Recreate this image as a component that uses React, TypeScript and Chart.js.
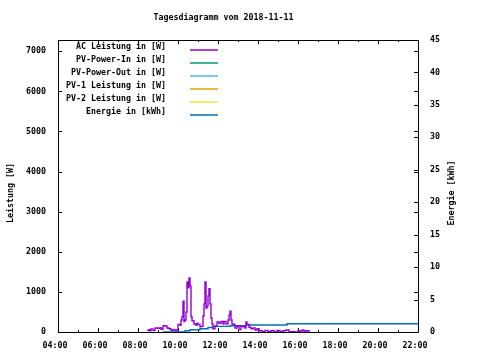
import React, { useEffect, useRef } from "react";
import { Chart, registerables } from "chart.js";

Chart.register(...registerables);

const chartTitle = "Tagesdiagramm vom 2018-11-11";
const leftAxisTitle = "Leistung [W]";
const rightAxisTitle = "Energie [kWh]";

const seriesLabels = [
  "AC Leistung in [W]",
  "PV-Power-In in [W]",
  "PV-Power-Out in [W]",
  "PV-1 Leistung in [W]",
  "PV-2 Leistung in [W]",
  "Energie in [kWh]",
];
const seriesColors = ["#9400d3", "#009e73", "#56b4e9", "#e69f00", "#f0e442", "#0072b2"];

const xTickLabels = ["04:00", "06:00", "08:00", "10:00", "12:00", "14:00", "16:00", "18:00", "20:00", "22:00"];
const leftTickValues = [0, 1000, 2000, 3000, 4000, 5000, 6000, 7000];
const rightTickValues = [0, 5, 10, 15, 20, 25, 30, 35, 40, 45];

const acTimes = [
  "08:27", "08:33", "08:36", "08:39", "08:45", "08:51", "09:00", "09:06", "09:09", "09:15",
  "09:21", "09:27", "09:33", "09:39", "09:45", "09:51", "09:57", "10:00", "10:06", "10:09",
  "10:12", "10:15", "10:18", "10:21", "10:24", "10:27", "10:30", "10:33", "10:36", "10:39",
  "10:42", "10:48", "10:54", "10:57", "11:00", "11:06", "11:09", "11:15", "11:18", "11:21",
  "11:24", "11:27", "11:30", "11:33", "11:36", "11:39", "11:42", "11:45", "11:51", "11:57",
  "12:03", "12:09", "12:15", "12:18", "12:24", "12:30", "12:33", "12:36", "12:39", "12:42",
  "12:48", "12:51", "12:57", "13:03", "13:09", "13:15", "13:21", "13:24", "13:27", "13:33",
  "13:39", "13:45", "13:51", "13:57", "14:03", "14:12", "14:21", "14:30", "14:39", "14:48",
  "14:57", "15:06", "15:15", "15:24", "15:33", "15:42", "15:51", "16:00", "16:06", "16:12",
  "16:18", "16:24", "16:33",
];
const acValues = [
  40, 60, 30, 75, 40, 100, 90, 110, 70, 160,
  150, 100, 80, 40, 60, 30, 60, 190, 170, 300,
  380, 770, 260, 300, 500, 1250, 1100, 1350, 1150, 380,
  280, 200, 170, 220, 190, 130, 140, 400, 700, 1250,
  600, 650, 900, 1080, 700, 350, 200, 80, 150, 250,
  220, 260, 200, 260, 200, 300, 420, 520, 300, 200,
  180, 100, 150, 60, 150, 130, 100, 250, 190, 120,
  80, 100, 50, 80, 30, 10, 40, 10, 30, 5,
  40, 10, 30, 50, 10, 5, 0, 30, 10, 50,
  20, 30, 0,
];

const energyTimes = ["09:15", "10:21", "10:36", "11:06", "11:30", "11:45", "12:36", "13:24", "15:27", "22:00"];
const energyValues = [0, 0.2, 0.35, 0.5, 0.7, 0.86, 0.97, 1.07, 1.28, 1.28];

const pvInValues: number[] = [];
const pvOutValues: number[] = [];
const pv1Values: number[] = [];
const pv2Values: number[] = [];

const FONT = "'DejaVu Sans Mono', 'Liberation Mono', monospace";

function toHours(t: string): number {
  const [h, m] = t.split(":").map(Number);
  return h + m / 60;
}

const framePlugin = {
  id: "gnuplotFrame",
  beforeDatasetsDraw(chart: any) {
    const { ctx, chartArea: a, scales } = chart;
    ctx.save();
    ctx.strokeStyle = "#000";
    ctx.lineWidth = 1;
    ctx.beginPath();
    ctx.rect(Math.round(a.left) + 0.5, Math.round(a.top) + 0.5, Math.round(a.right - a.left), Math.round(a.bottom - a.top));
    const x = scales.x;
    for (let h = 4; h <= 22; h += 1) {
      const px = Math.round(x.getPixelForValue(h)) + 0.5;
      const len = h % 2 === 0 ? 4 : 2;
      ctx.moveTo(px, a.bottom);
      ctx.lineTo(px, a.bottom - len);
      ctx.moveTo(px, a.top);
      ctx.lineTo(px, a.top + len);
    }
    const y = scales.y;
    for (const v of leftTickValues) {
      const py = Math.round(y.getPixelForValue(v)) + 0.5;
      ctx.moveTo(a.left, py);
      ctx.lineTo(a.left + 4, py);
      ctx.moveTo(a.right, py);
      ctx.lineTo(a.right - 4, py);
    }
    const y1 = scales.y1;
    for (const v of rightTickValues) {
      const py = Math.round(y1.getPixelForValue(v)) + 0.5;
      ctx.moveTo(a.right, py);
      ctx.lineTo(a.right - 4, py);
    }
    ctx.stroke();
    ctx.restore();
  },
  afterDraw(chart: any) {
    const { ctx } = chart;
    ctx.save();
    ctx.fillStyle = "#000";
    ctx.font = `bold 8.3px ${FONT}`;
    ctx.textBaseline = "middle";
    ctx.textAlign = "center";
    ctx.fillText(chartTitle, 223.5, 18);
    ctx.textAlign = "right";
    for (let i = 0; i < seriesLabels.length; i++) {
      const ly = 49.5 + i * 13;
      ctx.fillStyle = "#000";
      ctx.fillText(seriesLabels[i], 166, ly - 2.5);
      ctx.strokeStyle = seriesColors[i];
      ctx.lineWidth = 1.5;
      ctx.beginPath();
      ctx.moveTo(190, Math.round(ly));
      ctx.lineTo(218, Math.round(ly));
      ctx.stroke();
    }
    ctx.fillStyle = "#000";
    ctx.textAlign = "center";
    ctx.save();
    ctx.translate(11, 193);
    ctx.rotate(-Math.PI / 2);
    ctx.fillText(leftAxisTitle, 0, 0);
    ctx.restore();
    ctx.save();
    ctx.translate(452, 193);
    ctx.rotate(-Math.PI / 2);
    ctx.fillText(rightAxisTitle, 0, 0);
    ctx.restore();
    ctx.restore();
  },
};

export default function App() {
  const ref = useRef<HTMLCanvasElement | null>(null);
  useEffect(() => {
    document.body.style.margin = "0";
    if (!ref.current) return;
    const tickFont = { family: FONT, size: 8.3, weight: "bold" as const };
    const mk = (times: string[], vals: number[]) => times.map((t, i) => ({ x: toHours(t), y: vals[i] }));
    const chart = new Chart(ref.current, {
      type: "line",
      data: {
        datasets: [
          { label: seriesLabels[0], data: mk(acTimes, acValues), borderColor: seriesColors[0], borderWidth: 1.4, pointRadius: 0, stepped: true, yAxisID: "y" },
          { label: seriesLabels[1], data: mk(acTimes.slice(0, pvInValues.length), pvInValues), borderColor: seriesColors[1], borderWidth: 1, pointRadius: 0, yAxisID: "y" },
          { label: seriesLabels[2], data: mk(acTimes.slice(0, pvOutValues.length), pvOutValues), borderColor: seriesColors[2], borderWidth: 1, pointRadius: 0, yAxisID: "y" },
          { label: seriesLabels[3], data: mk(acTimes.slice(0, pv1Values.length), pv1Values), borderColor: seriesColors[3], borderWidth: 1, pointRadius: 0, yAxisID: "y" },
          { label: seriesLabels[4], data: mk(acTimes.slice(0, pv2Values.length), pv2Values), borderColor: seriesColors[4], borderWidth: 1, pointRadius: 0, yAxisID: "y" },
          { label: seriesLabels[5], data: mk(energyTimes, energyValues), borderColor: seriesColors[5], borderWidth: 1.4, pointRadius: 0, stepped: true, yAxisID: "y1" },
        ],
      },
      options: {
        responsive: false,
        animation: false,
        layout: { padding: { top: 40, left: 0, right: 0, bottom: 0 } },
        plugins: { legend: { display: false }, title: { display: false }, tooltip: { enabled: false } },
        scales: {
          x: {
            type: "linear",
            min: 4,
            max: 22,
            grid: { display: false, drawTicks: false },
            border: { display: false },
            afterBuildTicks: (s: any) => { s.ticks = xTickLabels.map((_, i) => ({ value: 4 + i * 2 })); },
            ticks: {
              autoSkip: false,
              maxRotation: 0,
              padding: 9,
              labelOffset: -3,
              color: "#000",
              font: tickFont,
              callback: (v: any) => xTickLabels[Math.round((Number(v) - 4) / 2)] ?? "",
            },
            afterFit: (s: any) => { s.height = 28; },
          },
          y: {
            position: "left",
            min: 0,
            max: 7280,
            grid: { display: false, drawTicks: false },
            border: { display: false },
            afterBuildTicks: (s: any) => { s.ticks = leftTickValues.map((v) => ({ value: v })); },
            ticks: { autoSkip: false, padding: 12, color: "#000", font: tickFont, callback: (v: any) => String(v) },
            afterFit: (s: any) => { s.width = 58; },
          },
          y1: {
            position: "right",
            min: 0,
            max: 45,
            grid: { display: false, drawTicks: false },
            border: { display: false },
            afterBuildTicks: (s: any) => { s.ticks = rightTickValues.map((v) => ({ value: v })); },
            ticks: { autoSkip: false, padding: 12, color: "#000", font: tickFont, callback: (v: any) => String(v) },
            afterFit: (s: any) => { s.width = 62; },
          },
        },
      },
      plugins: [framePlugin],
    });
    return () => chart.destroy();
  }, []);
  return (
    <div style={{ position: "absolute", left: 0, top: 0, width: 480, height: 360, background: "#fff" }}>
      <canvas ref={ref} width={480} height={360} />
    </div>
  );
}
